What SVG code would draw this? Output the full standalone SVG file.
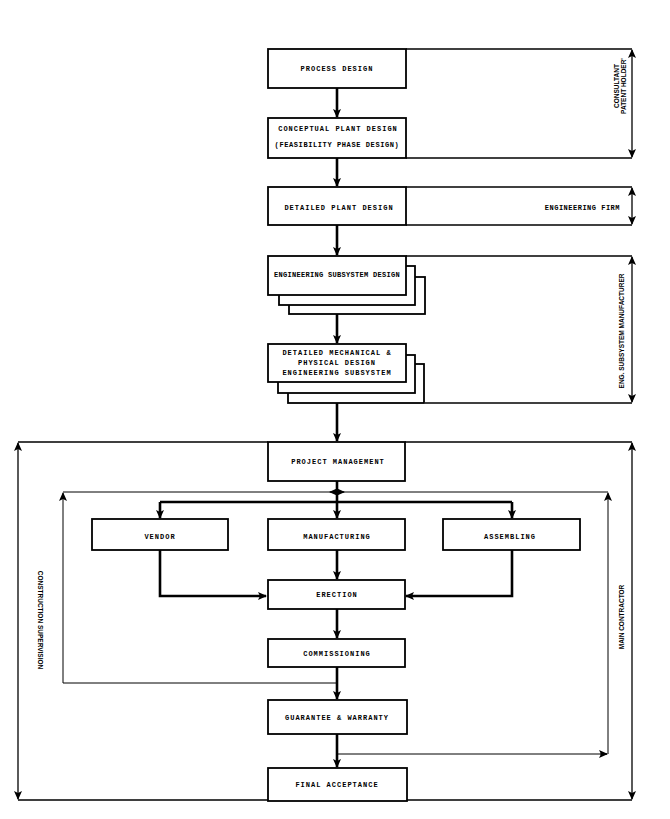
<svg xmlns="http://www.w3.org/2000/svg" width="670" height="819" viewBox="0 0 670 819">
<style>
.box{fill:#fff;stroke:#000;stroke-width:1.8}
.t{font-family:"Liberation Mono","DejaVu Sans Mono",monospace;font-weight:bold;font-size:7px;letter-spacing:1px;fill:#000;text-anchor:middle}
.lbl{font-family:"Liberation Sans Narrow","Liberation Sans",sans-serif;font-weight:bold;font-size:6.5px;fill:#000;text-anchor:middle}
.main{fill:none;stroke:#000;stroke-width:2.6}
.br{fill:none;stroke:#000;stroke-width:1.3}
.fb{fill:none;stroke:#000;stroke-width:1}
</style>
<defs>
<marker id="ah" markerUnits="userSpaceOnUse" markerWidth="9" markerHeight="8" refX="8" refY="4" orient="auto">
<path d="M0,0 L9,4 L0,8 L2,4 z" fill="#000"/>
</marker>
</defs>
<rect width="670" height="819" fill="#fff"/>
<g id="connectors">
<!-- main flow -->
<path class="main" d="M337,88 V117" marker-end="url(#ah)"/>
<path class="main" d="M337,158 V186" marker-end="url(#ah)"/>
<path class="main" d="M337,225 V255" marker-end="url(#ah)"/>
<path class="main" d="M337,300 V343" marker-end="url(#ah)"/>
<path class="main" d="M337,395 V441" marker-end="url(#ah)"/>
<path class="main" d="M337,481 V518" marker-end="url(#ah)"/>
<path class="main" d="M160,502 H512"/>
<path class="main" d="M160,502 V518" marker-end="url(#ah)"/>
<path class="main" d="M512,502 V518" marker-end="url(#ah)"/>
<path class="main" d="M337,550 V579" marker-end="url(#ah)"/>
<path class="main" d="M160,550 V596 H266" marker-end="url(#ah)"/>
<path class="main" d="M512,550 V596 H406" marker-end="url(#ah)"/>
<path class="main" d="M337,609 V638" marker-end="url(#ah)"/>
<path class="main" d="M337,667 V699" marker-end="url(#ah)"/>
<path class="main" d="M337,734 V767" marker-end="url(#ah)"/>
<!-- responsibility brackets -->
<path class="br" d="M406,49 H632"/>
<path class="br" d="M406,158 H632"/>
<path class="br" d="M632,104 V50" marker-end="url(#ah)"/>
<path class="br" d="M632,104 V157" marker-end="url(#ah)"/>
<path class="br" d="M406,187 H632"/>
<path class="br" d="M406,225 H632"/>
<path class="br" d="M632,206 V188" marker-end="url(#ah)"/>
<path class="br" d="M632,206 V224" marker-end="url(#ah)"/>
<path class="br" d="M406,256 H632"/>
<path class="br" d="M425,403 H632"/>
<path class="br" d="M632,330 V257" marker-end="url(#ah)"/>
<path class="br" d="M632,330 V402" marker-end="url(#ah)"/>
<path class="br" d="M18,442 H268 M405,442 H632"/>
<path class="br" d="M18,800 H268 M405,800 H632"/>
<path class="br" d="M632,620 V443" marker-end="url(#ah)"/>
<path class="br" d="M632,620 V799" marker-end="url(#ah)"/>
<path class="br" d="M18,620 V443" marker-end="url(#ah)"/>
<path class="br" d="M18,620 V799" marker-end="url(#ah)"/>
<!-- feedback loops -->
<path class="fb" d="M63,492 H608"/>
<path class="fb" d="M337,492 H330" marker-end="url(#ah)"/>
<path class="fb" d="M337,492 H344" marker-end="url(#ah)"/>
<path class="fb" d="M337,683 H63 V493" marker-end="url(#ah)"/>
<path class="fb" d="M337,754 H607"/>
<path class="fb" d="M600,754 H607" marker-end="url(#ah)"/>
<path class="fb" d="M608,754 V493" marker-end="url(#ah)"/>
</g>
<g id="process-design">
<rect class="box" x="268" y="49" width="138" height="39"/>
<text class="t" x="337" y="71">PROCESS DESIGN</text>
</g>
<g id="conceptual-plant-design">
<rect class="box" x="268" y="118" width="138" height="40"/>
<text class="t" x="338" y="131">CONCEPTUAL PLANT DESIGN</text>
<text class="t" x="337" y="147" style="letter-spacing:0.6px">(FEASIBILITY PHASE   DESIGN)</text>
</g>
<g id="detailed-plant-design">
<rect class="box" x="268" y="187" width="138" height="38"/>
<text class="t" x="339" y="210">DETAILED PLANT DESIGN</text>
</g>
<g id="engineering-subsystem-design">
<rect class="box" x="289" y="277" width="136" height="37"/>
<rect class="box" x="279" y="266" width="136" height="39"/>
<rect class="box" x="268" y="256" width="138" height="39"/>
<text class="t" x="337" y="277" style="letter-spacing:0.3px">ENGINEERING SUBSYSTEM DESIGN</text>
</g>
<g id="detailed-mechanical-design">
<rect class="box" x="288" y="364" width="136" height="39"/>
<rect class="box" x="278" y="355" width="137" height="38"/>
<rect class="box" x="268" y="344" width="138" height="38"/>
<text class="t" x="337" y="355">DETAILED MECHANICAL &amp;</text>
<text class="t" x="337" y="365">PHYSICAL DESIGN</text>
<text class="t" x="337" y="375">ENGINEERING SUBSYSTEM</text>
</g>
<g id="project-management">
<rect class="box" x="268" y="442" width="137" height="39"/>
<text class="t" x="338" y="464">PROJECT MANAGEMENT</text>
</g>
<g id="vendor">
<rect class="box" x="92" y="519" width="136" height="31"/>
<text class="t" x="160" y="539">VENDOR</text>
</g>
<g id="manufacturing">
<rect class="box" x="268" y="519" width="137" height="31"/>
<text class="t" x="337" y="539">MANUFACTURING</text>
</g>
<g id="assembling">
<rect class="box" x="443" y="519" width="137" height="31"/>
<text class="t" x="510" y="539">ASSEMBLING</text>
</g>
<g id="erection">
<rect class="box" x="268" y="580" width="137" height="29"/>
<text class="t" x="337" y="597">ERECTION</text>
</g>
<g id="commissioning">
<rect class="box" x="268" y="639" width="137" height="28"/>
<text class="t" x="337" y="656">COMMISSIONING</text>
</g>
<g id="guarantee-warranty">
<rect class="box" x="268" y="700" width="139" height="34"/>
<text class="t" x="337" y="720">GUARANTEE &amp; WARRANTY</text>
</g>
<g id="final-acceptance">
<rect class="box" x="268" y="768" width="139" height="33"/>
<text class="t" x="337" y="787">FINAL ACCEPTANCE</text>
</g>
<g id="labels">
<text class="lbl" transform="translate(619,86) rotate(-90)">CONSULTANT</text>
<text class="lbl" transform="translate(626,86) rotate(-90)">PATENT HOLDER'</text>
<text class="t" x="620" y="210" style="text-anchor:end;letter-spacing:0.5px">ENGINEERING FIRM</text>
<text class="lbl" transform="translate(624,331) rotate(-90)">ENG. SUBSYSTEM MANUFACTURER</text>
<text class="lbl" transform="translate(624,617) rotate(-90)">MAIN CONTRACTOR</text>
<text class="lbl" transform="translate(38,620) rotate(90)">CONSTRUCTION SUPERVISION</text>
</g>
</svg>
